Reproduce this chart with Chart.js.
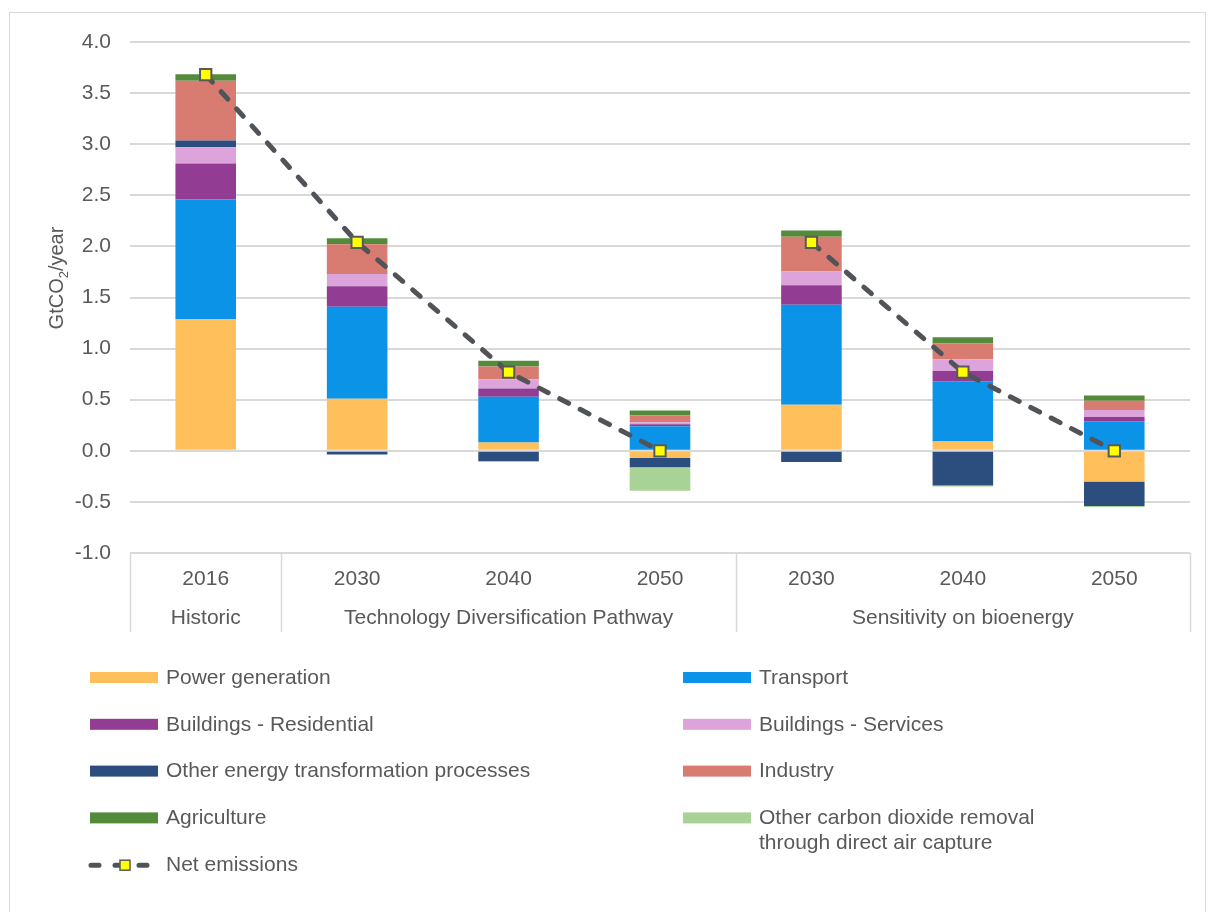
<!DOCTYPE html>
<html>
<head>
<meta charset="utf-8">
<script src="https://cdn.jsdelivr.net/npm/chart.js@4.4.1/dist/chart.umd.min.js"></script>
<style>
  html, body { margin: 0; padding: 0; background: #fff; }
  #wrap { width: 1214px; height: 912px; }
</style>
</head>
<body>
<div id="wrap"><canvas id="grafico" width="1214" height="912"></canvas></div>
<script>
// categories
var years = ['2016', '2030', '2040', '2050', '2030', '2040', '2050'];
var groups = ['Historic', 'Technology Diversification Pathway', 'Sensitivity on bioenergy'];
var groupFirst = [0, 1, 4];
var groupLast = [0, 3, 6];

// GtCO2/year by sector
var power = [1.29, 0.51, 0.08, -0.07, 0.45, 0.09, -0.30];
var transport = [1.17, 0.90, 0.45, 0.24, 0.98, 0.59, 0.29];
var residential = [0.35, 0.20, 0.08, 0.02, 0.19, 0.10, 0.04];
var services = [0.16, 0.12, 0.09, 0.02, 0.135, 0.115, 0.07];
var otherEnergy = [0.065, -0.035, -0.10, -0.09, -0.11, -0.34, -0.24];
var industry = [0.585, 0.29, 0.125, 0.065, 0.34, 0.155, 0.09];
var agriculture = [0.065, 0.06, 0.055, 0.05, 0.06, 0.06, 0.05];
var airCapture = [0, 0, -0.01, -0.23, 0, -0.01, -0.01];
var netEmissions = [3.68, 2.04, 0.77, 0.00, 2.04, 0.77, 0.00];

var yMin = -1.0;
var yMax = 4.0;
var yStep = 0.5;

var textColor = '#595959';
var gridColor = '#d9d9d9';
var lineColor = '#505459';
var fontFamily = '"Liberation Sans", Arial, sans-serif';
var fontSize = 21;

function bar(label, data, color) {
    return { type: 'bar', label: label, data: data, backgroundColor: color, borderWidth: 0, order: 1, stack: 'sectors' };
}

var datasets = [
    bar('Power generation', power, '#ffc05c'),
    bar('Transport', transport, '#0b93e8'),
    bar('Buildings - Residential', residential, '#923c93'),
    bar('Buildings - Services', services, '#dda4db'),
    bar('Other energy transformation processes', otherEnergy, '#2c4e7f'),
    bar('Industry', industry, '#d87b71'),
    bar('Agriculture', agriculture, '#548b3a'),
    bar('Other carbon dioxide removal through direct air capture', airCapture, '#a9d396'),
    {
        type: 'line',
        label: 'Net emissions',
        data: netEmissions,
        stack: 'net',
        order: 0,
        borderColor: lineColor,
        borderWidth: 5,
        borderDash: [10, 13],
        borderCapStyle: 'round',
        tension: 0,
        fill: false,
        pointStyle: 'rect',
        pointRadius: 8,
        pointHoverRadius: 8,
        pointBackgroundColor: '#ffff00',
        pointBorderColor: '#595959',
        pointBorderWidth: 2,
        segment: {
            // no line between the two scenarios
            borderColor: function (ctx) { return ctx.p0DataIndex === 3 ? 'rgba(0,0,0,0)' : lineColor; }
        }
    }
];

// legend layout: two columns, label lines
var legendRows = [
    [0, 1], [2, 3], [4, 5], [6, 7], [8]
];
var legendText = {
    7: ['Other carbon dioxide removal', 'through direct air capture']
};

var extras = {
    id: 'extras',
    beforeDraw: function (chart) {
        var ctx = chart.ctx;
        ctx.save();
        ctx.strokeStyle = gridColor;
        ctx.lineWidth = 1;
        ctx.strokeRect(9.5, 12.5, 1196, 920);
        ctx.restore();
    },
    afterDraw: function (chart) {
        var ctx = chart.ctx;
        var x = chart.scales.x;
        var area = chart.chartArea;
        var w = x.width / years.length;
        var font = fontSize + 'px ' + fontFamily;
        ctx.save();

        // group boxes under the years
        ctx.strokeStyle = gridColor;
        ctx.lineWidth = 1.5;
        var bounds = [0, 1, 4, 7];
        for (var b = 0; b < bounds.length; b++) {
            var bx = Math.round(x.left + w * bounds[b]) + 0.5;
            ctx.beginPath();
            ctx.moveTo(bx, area.bottom);
            ctx.lineTo(bx, 632);
            ctx.stroke();
        }
        ctx.fillStyle = textColor;
        ctx.font = font;
        ctx.textAlign = 'center';
        ctx.textBaseline = 'middle';
        for (var g = 0; g < groups.length; g++) {
            var cx = (x.getPixelForValue(groupFirst[g]) + x.getPixelForValue(groupLast[g])) / 2;
            ctx.fillText(groups[g], cx, 618);
        }

        // y axis title with subscript
        ctx.save();
        ctx.translate(57, 278);
        ctx.rotate(-Math.PI / 2);
        ctx.textAlign = 'left';
        var p1 = 'GtCO', p3 = '/year';
        ctx.font = '20px ' + fontFamily;
        var w1 = ctx.measureText(p1).width;
        var w3 = ctx.measureText(p3).width;
        ctx.font = '13px ' + fontFamily;
        var w2 = ctx.measureText('2').width;
        var sx = -(w1 + w2 + w3) / 2;
        ctx.font = '20px ' + fontFamily;
        ctx.fillText(p1, sx, 0);
        ctx.font = '13px ' + fontFamily;
        ctx.fillText('2', sx + w1, 7);
        ctx.font = '20px ' + fontFamily;
        ctx.fillText(p3, sx + w1 + w2, 0);
        ctx.restore();

        // legend
        var colX = [90, 683];
        var rowY = 678;
        ctx.font = font;
        ctx.textAlign = 'left';
        for (var r = 0; r < legendRows.length; r++) {
            var y = rowY + r * 46.8;
            for (var c = 0; c < legendRows[r].length; c++) {
                var i = legendRows[r][c];
                var ds = datasets[i];
                var lx = colX[c];
                if (ds.type === 'bar') {
                    ctx.fillStyle = ds.backgroundColor;
                    ctx.fillRect(lx, y - 6, 68, 11);
                } else {
                    ctx.strokeStyle = lineColor;
                    ctx.lineWidth = 5;
                    ctx.lineCap = 'round';
                    ctx.setLineDash([8, 16]);
                    ctx.beginPath();
                    ctx.moveTo(91, y);
                    ctx.lineTo(155, y);
                    ctx.stroke();
                    ctx.setLineDash([]);
                    ctx.fillStyle = '#ffff00';
                    ctx.fillRect(120, y - 5, 10, 10);
                    ctx.strokeStyle = '#595959';
                    ctx.lineWidth = 1.5;
                    ctx.strokeRect(120, y - 5, 10, 10);
                }
                ctx.fillStyle = textColor;
                var lines = legendText[i] || [ds.label];
                for (var k = 0; k < lines.length; k++) {
                    ctx.fillText(lines[k], lx + 76, y + k * 25);
                }
            }
        }
        ctx.restore();
    }
};

var ctx = document.getElementById('grafico');
new Chart(ctx, {
    data: { labels: years, datasets: datasets },
    options: {
        responsive: false,
        animation: false,
        layout: { padding: { top: 42, right: 24, left: 0, bottom: 0 } },
        plugins: { legend: { display: false }, tooltip: { enabled: false } },
        datasets: { bar: { categoryPercentage: 1, barPercentage: 0.4 } },
        scales: {
            x: {
                stacked: true,
                grid: { display: false, drawTicks: false },
                border: { display: false },
                ticks: {
                    color: textColor,
                    font: { family: fontFamily, size: fontSize },
                    padding: 14,
                    maxRotation: 0,
                    autoSkip: false
                },
                afterFit: function (s) { s.height = 359; }
            },
            y: {
                stacked: true,
                min: yMin,
                max: yMax,
                grid: { color: gridColor, lineWidth: 2, drawTicks: false },
                border: { display: false },
                ticks: {
                    stepSize: yStep,
                    color: textColor,
                    font: { family: fontFamily, size: fontSize },
                    padding: 19,
                    callback: function (v) { return v.toFixed(1); }
                },
                afterFit: function (s) { s.width = 130; }
            }
        }
    },
    plugins: [extras]
});
</script>
</body>
</html>
